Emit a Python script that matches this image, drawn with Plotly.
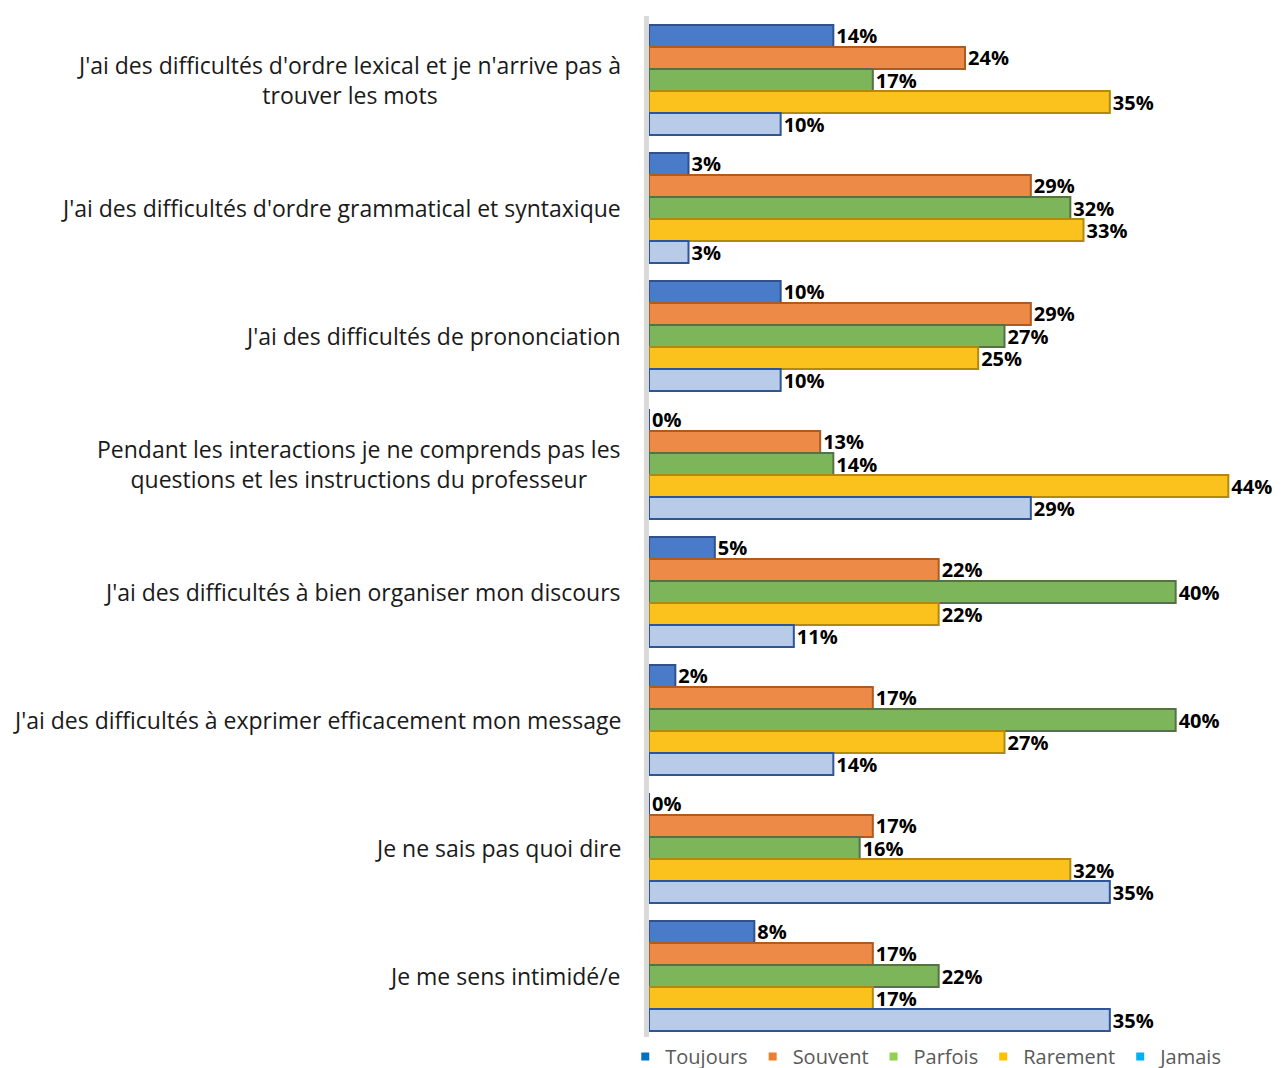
import plotly.graph_objects as go

categories = [
    "J'ai des difficultés d'ordre lexical et je n'arrive pas à<br>trouver les mots",
    "J'ai des difficultés d'ordre grammatical et syntaxique",
    "J'ai des difficultés de prononciation",
    "Pendant les interactions je ne comprends pas les<br>questions et les instructions du professeur",
    "J'ai des difficultés à bien organiser mon discours",
    "J'ai des difficultés à exprimer efficacement mon message",
    "Je ne sais pas quoi dire",
    "Je me sens intimidé/e",
]

toujours = [14, 3, 10, 0, 5, 2, 0, 8]
souvent = [24, 29, 29, 13, 22, 17, 17, 17]
parfois = [17, 32, 27, 14, 40, 40, 16, 22]
rarement = [35, 33, 25, 44, 22, 27, 32, 17]
jamais = [10, 3, 10, 29, 11, 14, 35, 35]

series = [
    ("Toujours", toujours, "#4A7BC8", "#2F528F", "#0070C0"),
    ("Souvent", souvent, "#EE8A48", "#AE5A21", "#ED7D31"),
    ("Parfois", parfois, "#7DB55A", "#56714A", "#92D050"),
    ("Rarement", rarement, "#FBC21E", "#B08A10", "#FFC000"),
    ("Jamais", jamais, "#B8CBE8", "#2F5597", "#00B0F0"),
]

fig = go.Figure()

for name, vals, fill, edge, legend_color in series:
    fig.add_trace(go.Bar(
        y=categories,
        x=vals,
        orientation="h",
        name=name,
        showlegend=False,
        marker=dict(color=fill, line=dict(color=edge, width=2)),
        text=[f"{v}%" for v in vals],
        textposition="outside",
        constraintext="none",
        cliponaxis=False,
        textfont=dict(family="Open Sans", size=20, color="black", weight="bold"),
    ))

# legend-only markers (legend colours differ from the shaded bar fills)
for name, vals, fill, edge, legend_color in series:
    fig.add_trace(go.Scatter(
        x=[None], y=[None],
        mode="markers",
        name=name,
        marker=dict(symbol="square", size=8, color=legend_color),
    ))

for cat in categories:
    fig.add_annotation(
        x=0, xref="paper", y=cat, yref="y",
        text=cat, showarrow=False,
        xanchor="right", xshift=-26, align="center",
        font=dict(family="Open Sans", size=23, color="#1a1a1a"),
    )

fig.update_layout(
    width=1286,
    height=1068,
    barmode="group",
    bargap=0.14,
    bargroupgap=0,
    plot_bgcolor="white",
    paper_bgcolor="white",
    margin=dict(l=641, r=13, t=8, b=36, autoexpand=False),
    xaxis=dict(range=[0, 48], visible=False, showgrid=False),
    yaxis=dict(
        autorange="reversed",
        showticklabels=False,
        showgrid=False,
        showline=True,
        linecolor="#D9D9D9",
        linewidth=5,
        ticks="",
    ),
    legend=dict(
        orientation="h",
        xref="container", x=0.48, xanchor="left",
        yref="container", y=-0.004, yanchor="bottom",
        font=dict(family="Open Sans", size=20, color="#595959"),
        itemwidth=30,
        tracegroupgap=0,
    ),
)

fig.write_html("out.html")
